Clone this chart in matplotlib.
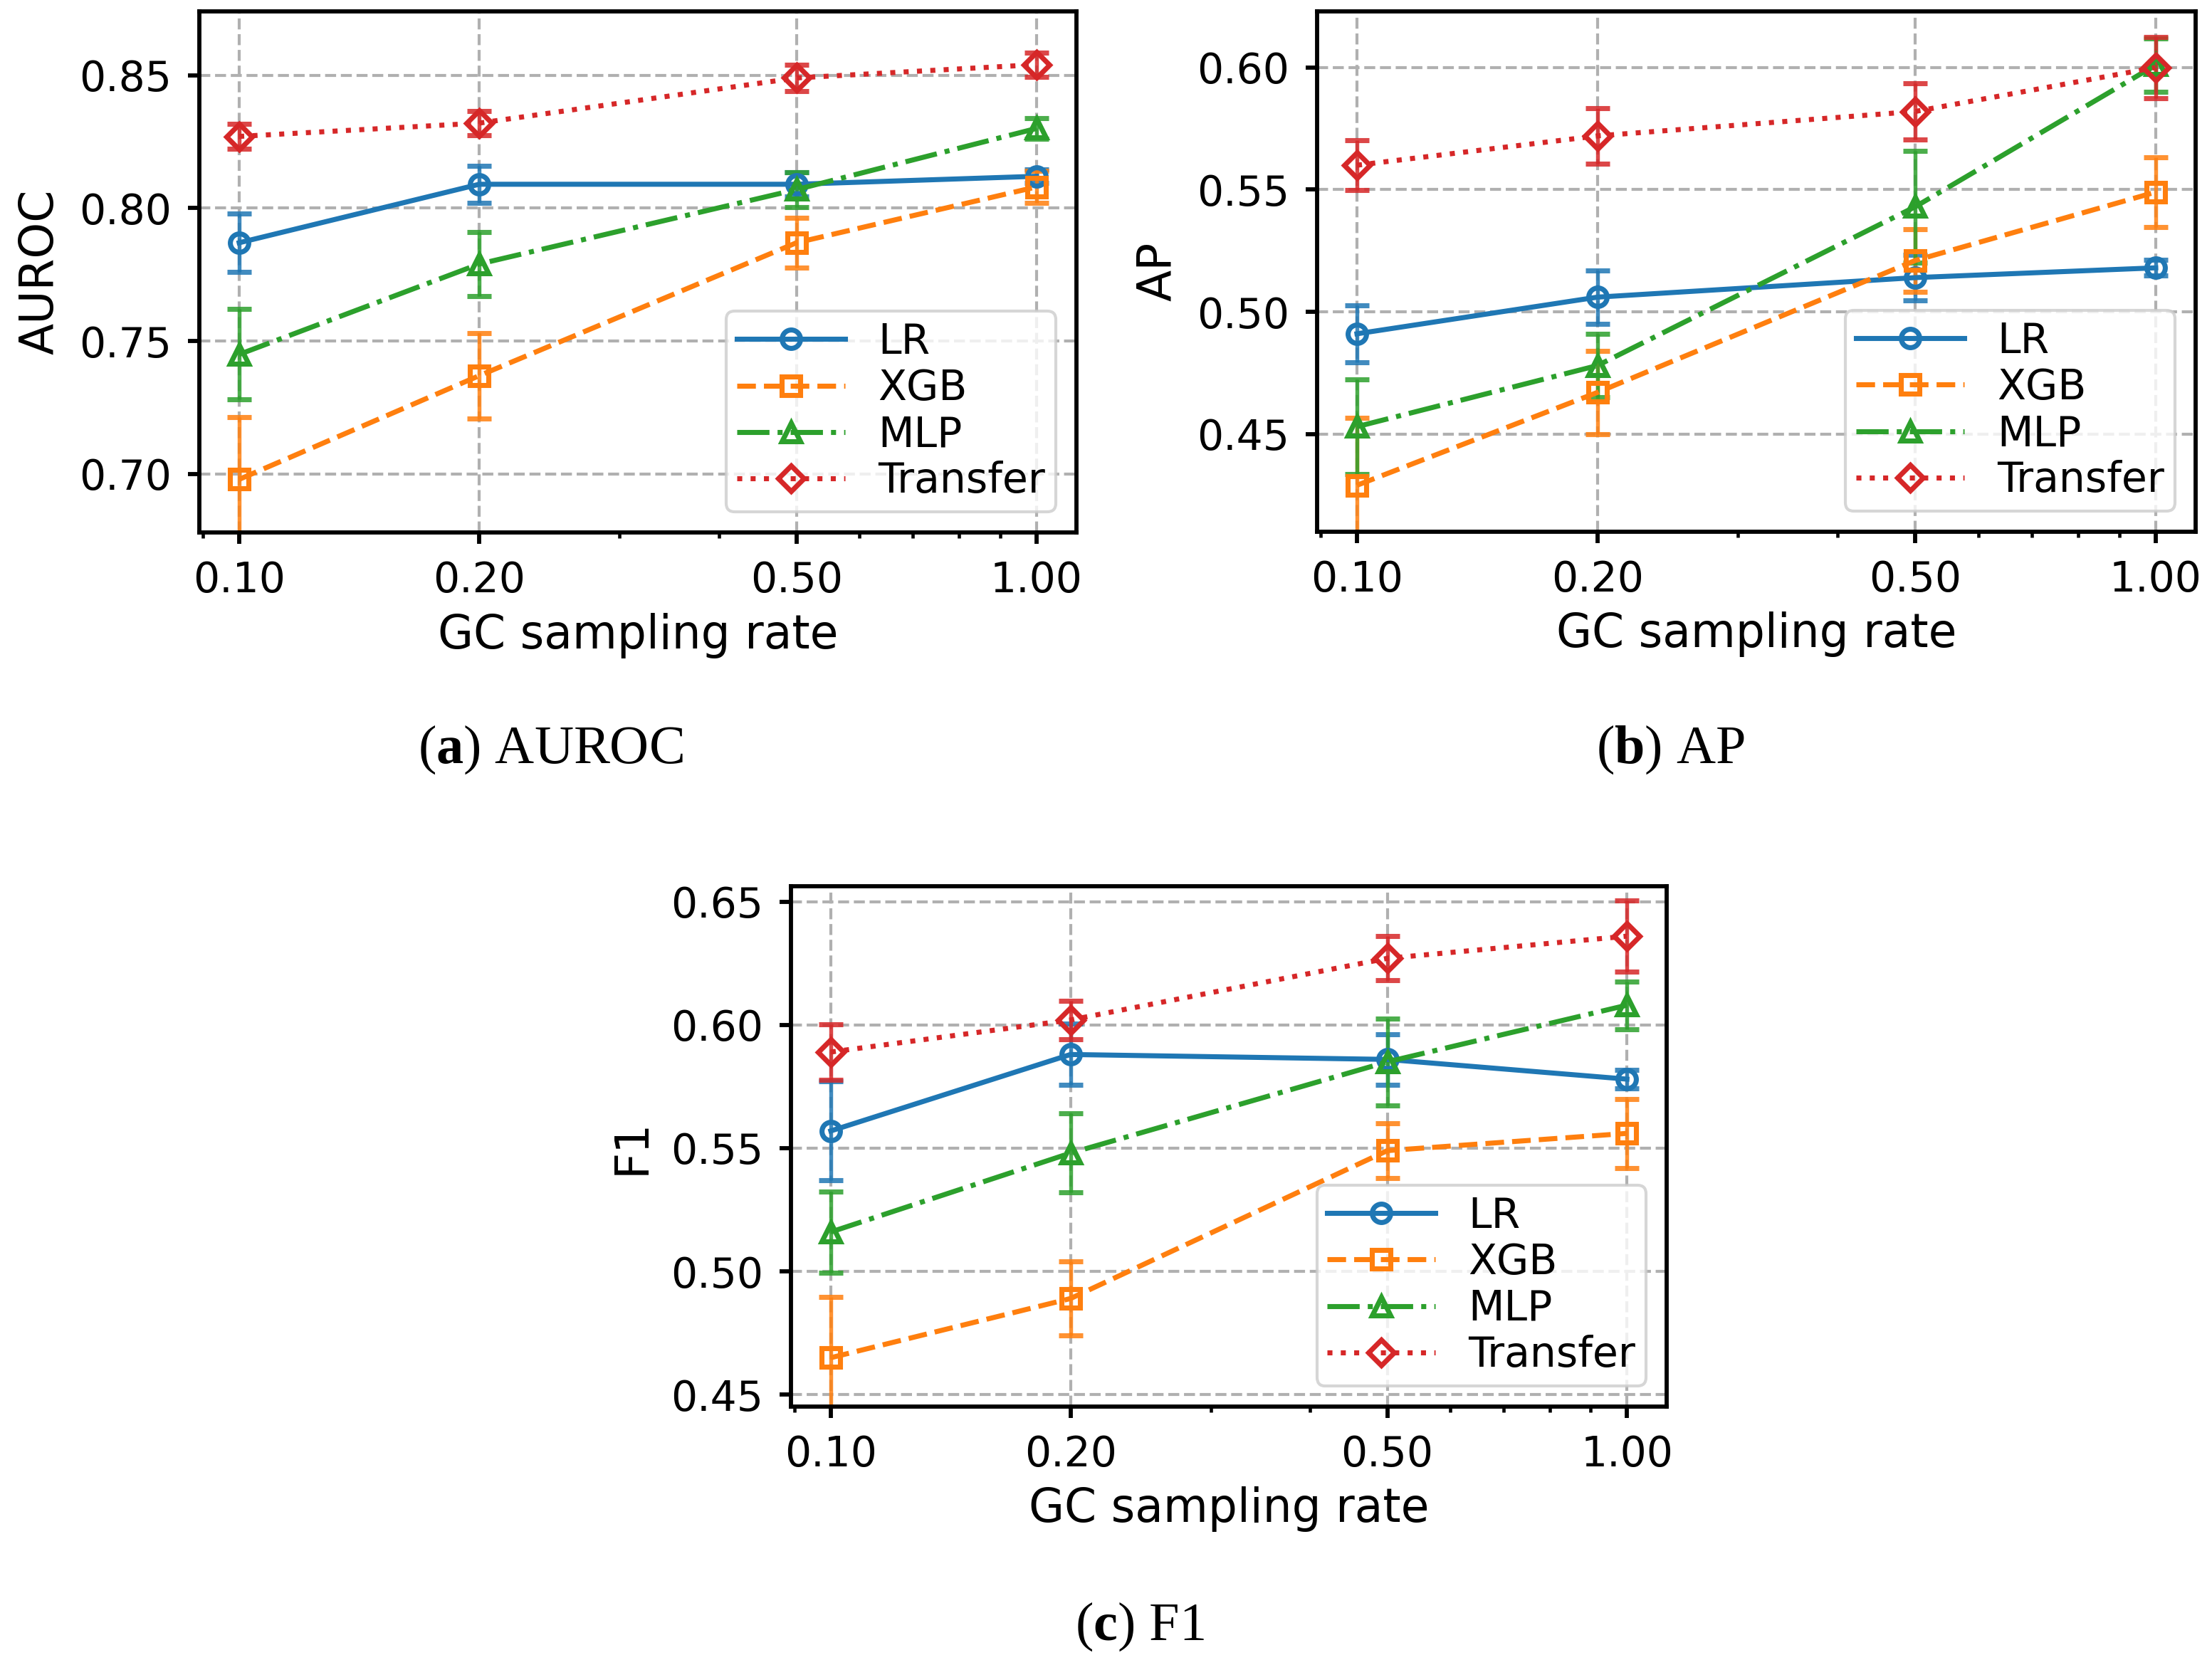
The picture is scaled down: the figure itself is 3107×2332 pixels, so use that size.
import matplotlib
matplotlib.use("Agg")
import matplotlib.pyplot as plt
from matplotlib.ticker import FixedLocator, FormatStrFormatter, NullFormatter, MultipleLocator

# GC sampling rates (x axis, log scale)
rates = [0.1, 0.2, 0.5, 1.0]
models = ["LR", "XGB", "MLP", "Transfer"]

# AUROC means / std
auroc_lr = [0.787, 0.809, 0.809, 0.812]
auroc_xgb = [0.698, 0.737, 0.787, 0.808]
auroc_mlp = [0.745, 0.779, 0.807, 0.830]
auroc_tr = [0.827, 0.832, 0.849, 0.854]
auroc_lr_err = [0.011, 0.007, 0.0045, 0.0025]
auroc_xgb_err = [0.0235, 0.016, 0.0095, 0.006]
auroc_mlp_err = [0.017, 0.012, 0.0066, 0.0038]
auroc_tr_err = [0.0047, 0.0046, 0.005, 0.0046]

# AP means / std
ap_lr = [0.491, 0.506, 0.514, 0.518]
ap_xgb = [0.429, 0.467, 0.521, 0.549]
ap_mlp = [0.453, 0.478, 0.543, 0.601]
ap_tr = [0.560, 0.572, 0.582, 0.600]
ap_lr_err = [0.0117, 0.011, 0.0094, 0.0032]
ap_xgb_err = [0.0275, 0.017, 0.0127, 0.0143]
ap_mlp_err = [0.0193, 0.013, 0.0228, 0.011]
ap_tr_err = [0.0102, 0.0113, 0.0114, 0.0126]

# F1 means / std
f1_lr = [0.557, 0.588, 0.586, 0.578]
f1_xgb = [0.465, 0.489, 0.549, 0.556]
f1_mlp = [0.516, 0.548, 0.585, 0.608]
f1_tr = [0.589, 0.602, 0.627, 0.636]
f1_lr_err = [0.020, 0.0124, 0.0103, 0.0037]
f1_xgb_err = [0.0245, 0.015, 0.011, 0.014]
f1_mlp_err = [0.0164, 0.016, 0.0176, 0.0097]
f1_tr_err = [0.0113, 0.0078, 0.009, 0.0145]

styles = [("C0", "-", "o"), ("C1", "--", "s"), ("C2", "-.", "^"), ("C3", ":", "D")]

plt.rcParams["font.family"] = ["DejaVu Sans"]
plt.rcParams["mathtext.fontset"] = "custom"
plt.rcParams["mathtext.rm"] = "Liberation Serif"
plt.rcParams["mathtext.bf"] = "Liberation Serif:bold"

fig = plt.figure(figsize=(3107 / 300, 2332 / 300), dpi=300)
ax_a = fig.add_axes([0.0901, 0.6792, 0.3965, 0.3139])
ax_b = fig.add_axes([0.5954, 0.6797, 0.3972, 0.3135])
ax_c = fig.add_axes([0.3576, 0.1527, 0.3959, 0.3135])


def draw_panel(ax, means, errs, ylabel, ylim):
    handles = []
    for m, e, name, (c, ls, mk) in zip(means, errs, models, styles):
        cont = ax.errorbar(rates, m, yerr=e, color=c, ls=ls, marker=mk, mfc="none",
                           ms=6.2, mew=1.7, lw=1.7, capsize=4, capthick=1.4,
                           elinewidth=1.3, label=name)
        for cl in cont[1]:
            cl.set_alpha(0.85)
        for bl in cont[2]:
            bl.set_alpha(0.85)
        handles.append(cont[0])
    ax.set_xscale("log")
    ax.xaxis.set_major_locator(FixedLocator(rates))
    ax.xaxis.set_major_formatter(FormatStrFormatter("%.2f"))
    ax.xaxis.set_minor_formatter(NullFormatter())
    ax.yaxis.set_major_locator(MultipleLocator(0.05))
    ax.yaxis.set_major_formatter(FormatStrFormatter("%.2f"))
    ax.set_ylim(*ylim)
    ax.grid(True, which="major", ls="--", color="#b0b0b0", lw=1.0)
    ax.set_xlabel("GC sampling rate", fontsize=15.5, labelpad=4)
    ax.set_ylabel(ylabel, fontsize=15.5, labelpad=5.5)
    ax.tick_params(which="major", labelsize=14, length=3.8, width=1.4, pad=5.5)
    ax.tick_params(which="minor", length=2.0, width=1.1)
    for sp in ax.spines.values():
        sp.set_linewidth(1.4)
    ax.legend(handles, models, loc="lower right", fontsize=14, handlelength=2.6,
              labelspacing=0.14, borderpad=0.25)


draw_panel(ax_a, [auroc_lr, auroc_xgb, auroc_mlp, auroc_tr],
           [auroc_lr_err, auroc_xgb_err, auroc_mlp_err, auroc_tr_err],
           "AUROC", (0.678, 0.874))
draw_panel(ax_b, [ap_lr, ap_xgb, ap_mlp, ap_tr],
           [ap_lr_err, ap_xgb_err, ap_mlp_err, ap_tr_err],
           "AP", (0.410, 0.623))
draw_panel(ax_c, [f1_lr, f1_xgb, f1_mlp, f1_tr],
           [f1_lr_err, f1_xgb_err, f1_mlp_err, f1_tr_err],
           "F1", (0.4452, 0.6563))

cap_kw = dict(ha="center", va="baseline", fontsize=18.3, family="Liberation Serif")
fig.text(773 / 3107, 1 - 1072 / 2332, r"($\mathbf{a}$) AUROC", **cap_kw)
fig.text(2346 / 3107, 1 - 1072 / 2332, r"($\mathbf{b}$) AP", **cap_kw)
fig.text(1601 / 3107, 1 - 2304 / 2332, r"($\mathbf{c}$) F1", **cap_kw)

fig.savefig("out.png", dpi=300)
